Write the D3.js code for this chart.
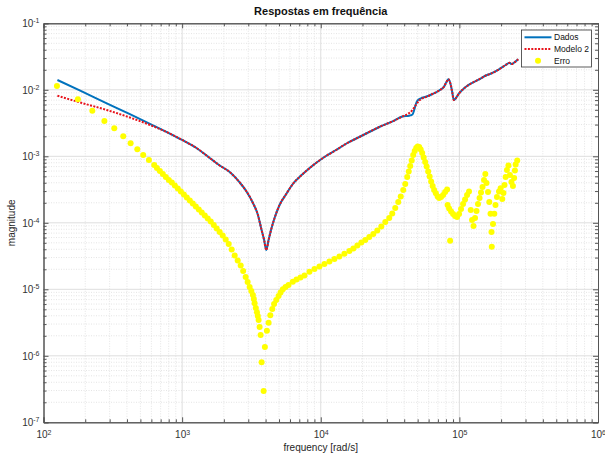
<!DOCTYPE html>
<html>
<head>
<meta charset="utf-8">
<title>Respostas em frequência</title>
<style>
  body { margin: 0; background: #fff; }
  svg { font-family: "Liberation Sans", Arial, sans-serif; }
  .grid-major line { stroke: #dedede; stroke-width: 1; }
  .grid-minor line { stroke: #e4e4e4; stroke-width: 1; stroke-dasharray: 1,1.5; }
  .axis path, .axis line { stroke: #555; }
  .axis text { fill: #333; font-size: 10px; }
</style>
</head>
<body>
<svg width="605" height="454"></svg>
<script src="https://d3js.org/d3.v7.min.js"></script>
<script>

// Dados (medido)
var freqDados = [126, 184, 286, 420, 586, 815, 1017, 1269, 1582, 1867, 2204, 2602, 2906, 3242, 3523, 3727, 3904, 4048,
  4205, 4398, 4645, 5045, 5637, 6289, 7422, 8759, 10630, 12900, 15560, 18980, 26440, 33900, 38900,
  43470, 45910, 47220, 48560, 49860, 52770, 57330, 63950, 71450, 77620, 80640, 83380, 86170, 89050, 91140,
  94210, 99500, 108100, 117400, 138600, 158200, 166300, 193100, 215700, 230400, 238200, 247500, 265800];
var magDados = [1.404e-2, 9.69e-3, 6.27e-3, 4.30e-3, 3.08e-3, 2.20e-3, 1.73e-3, 1.333e-3, 9.43e-4, 7.27e-4, 5.81e-4, 4.04e-4, 2.99e-4, 1.985e-4, 1.31e-4, 8.07e-5, 5.51e-5, 3.90e-5,
  5.51e-5, 8.07e-5, 1.18e-4, 1.85e-4, 2.71e-4, 3.83e-4, 5.42e-4, 7.27e-4, 9.76e-4, 1.243e-3, 1.585e-3, 1.95e-3, 2.76e-3, 3.45e-3, 3.97e-3,
  4.08e-3, 4.25e-3, 4.97e-3, 6.12e-3, 6.86e-3, 7.45e-3, 7.87e-3, 8.64e-3, 9.76e-3, 1.121e-2, 1.31e-2, 1.438e-2, 1.243e-2, 8.95e-3, 7.02e-3,
  7.45e-3, 8.86e-3, 1.053e-2, 1.193e-2, 1.438e-2, 1.67e-2, 1.73e-2, 2.03e-2, 2.36e-2, 2.55e-2, 2.44e-2, 2.55e-2, 2.87e-2];

// Modelo 2
var freqModelo = [126, 184, 286, 420, 586, 815, 1017, 1269, 1582, 1867, 2204, 2602, 2906, 3242, 3523, 3727, 3904, 4048,
  4205, 4398, 4645, 5045, 5637, 6289, 7422, 8759, 10630, 12900, 15560, 18980, 26440, 33900, 38900,
  43470, 45910, 48560, 51310, 54180, 57330, 63950, 71450, 77620, 80640, 83380, 86170, 89050, 91140,
  94210, 99500, 108100, 117400, 138600, 158200, 166300, 193100, 215700, 230400, 238200, 247500, 265800];
var magModelo = [8.15e-3, 6.44e-3, 4.97e-3, 3.83e-3, 2.96e-3, 2.20e-3, 1.73e-3, 1.333e-3, 9.43e-4, 7.27e-4, 5.81e-4, 4.04e-4, 2.99e-4, 1.985e-4, 1.31e-4, 8.07e-5, 5.51e-5, 3.90e-5,
  5.51e-5, 8.07e-5, 1.18e-4, 1.85e-4, 2.71e-4, 3.83e-4, 5.42e-4, 7.27e-4, 9.76e-4, 1.243e-3, 1.585e-3, 1.95e-3, 2.76e-3, 3.45e-3, 3.97e-3,
  4.48e-3, 4.97e-3, 5.91e-3, 6.90e-3, 7.45e-3, 7.79e-3, 8.64e-3, 9.76e-3, 1.121e-2, 1.31e-2, 1.438e-2, 1.243e-2, 8.95e-3, 7.02e-3,
  7.45e-3, 8.86e-3, 1.053e-2, 1.193e-2, 1.438e-2, 1.67e-2, 1.73e-2, 2.03e-2, 2.36e-2, 2.55e-2, 2.44e-2, 2.55e-2, 2.87e-2];

// Erro
var freqErro = [125, 177, 225, 275, 324, 376, 425, 475, 524, 576,
  629, 658, 691, 726, 763, 802, 843, 886, 931, 979, 1029, 1081, 1136, 1194, 1255, 1319, 1386, 1457, 1531, 1609,
  1691, 1776, 1867, 1962, 2062, 2168, 2278, 2394, 2516, 2645, 2756, 2873, 2969, 3069, 3157, 3242, 3291, 3334,
  3401, 3463, 3516, 3563, 3622, 3683, 3744, 3871,
  3955, 4088, 4205, 4325, 4471, 4606, 4776, 4962, 5130, 5328, 5572, 5856, 6289, 6687, 7145, 7632, 8291, 9010,
  9787, 10630, 11550, 12550, 13630, 14810, 16090, 17190, 18370, 19630, 20970, 22400, 23940, 25580, 27340, 29210,
  31200, 32800, 34470, 36220, 37760, 39360, 40690, 42060, 43120, 44190, 45310, 46450, 47620, 48820, 50050, 51310,
  52600, 53930, 55260, 56650, 58080, 59540, 61040, 62580, 64150, 65770, 67650, 69700, 71450, 73840, 76320, 78900, 81560,
  82240, 84320, 85730, 87160, 90100, 93130, 96260, 99500, 102800, 106300, 109900, 113600, 117400,
  120800, 123400, 126500, 129700, 132900, 136300, 139800, 143200, 146900, 150600, 153900, 156900, 160900, 164400,
  167700, 170500, 171300, 174800, 178600, 182200, 186700, 193100, 198500, 203900, 208000, 211500, 215700, 220400,
  225900, 231600, 237400, 243400, 248300, 251600, 254600, 261400];
var magErro = [1.14e-2, 7.20e-3, 4.85e-3, 3.40e-3, 2.64e-3, 2.00e-3, 1.57e-3, 1.274e-3, 1.046e-3, 8.80e-4,
  7.40e-4, 6.67e-4, 6.01e-4, 5.42e-4, 4.88e-4, 4.40e-4, 4.04e-4, 3.64e-4, 3.28e-4, 2.96e-4, 2.66e-4, 2.40e-4, 2.16e-4, 1.95e-4, 1.76e-4, 1.585e-4, 1.43e-4, 1.29e-4, 1.16e-4, 1.05e-4,
  9.27e-5, 8.21e-5, 7.27e-5, 6.44e-5, 5.61e-5, 4.80e-5, 3.97e-5, 3.22e-5, 2.71e-5, 2.28e-5, 1.88e-5, 1.53e-5, 1.29e-5, 1.08e-5, 9.43e-6, 8.21e-6, 7.15e-6, 6.16e-6,
  5.23e-6, 4.51e-6, 3.97e-6, 3.45e-6, 2.71e-6, 2.06e-6, 7.99e-7, 2.96e-7,
  1.36e-6, 2.38e-6, 3.15e-6, 4.06e-6, 5.05e-6, 6.01e-6, 6.90e-6, 7.93e-6, 8.95e-6, 1.00e-5, 1.08e-5, 1.16e-5, 1.30e-5, 1.40e-5, 1.50e-5, 1.61e-5, 1.84e-5, 2.02e-5,
  2.20e-5, 2.40e-5, 2.62e-5, 2.85e-5, 3.11e-5, 3.42e-5, 3.77e-5, 4.11e-5, 4.56e-5, 5.05e-5, 5.51e-5, 6.12e-5, 6.79e-5, 7.66e-5, 8.80e-5, 1.03e-4,
  1.18e-4, 1.38e-4, 1.67e-4, 2.06e-4, 2.49e-4, 3.11e-4, 3.83e-4, 4.88e-4, 5.91e-4, 7.15e-4, 8.65e-4, 1.046e-3, 1.20e-3, 1.333e-3, 1.40e-3, 1.38e-3,
  1.27e-3, 1.12e-3, 9.59e-4, 8.21e-4, 7.02e-4, 5.91e-4, 4.97e-4, 4.18e-4, 3.58e-4, 3.11e-4, 2.78e-4, 2.49e-4, 2.36e-4, 2.44e-4, 2.62e-4, 2.91e-4, 3.17e-4,
  1.85e-4, 1.64e-4, 5.38e-5, 1.48e-4, 1.36e-4, 1.27e-4, 1.22e-4, 1.36e-4, 1.61e-4, 1.92e-4, 2.24e-4, 2.62e-4, 2.96e-4,
  1.56e-4, 1.10e-4, 8.95e-5, 1.18e-4, 1.50e-4, 1.92e-4, 2.36e-4, 2.85e-4, 3.45e-4, 4.40e-4, 5.42e-4, 3.97e-4, 2.91e-4, 2.06e-4,
  1.37e-4, 7.27e-5, 4.37e-5, 9.59e-5, 1.37e-4, 1.85e-4, 2.44e-4, 2.96e-4, 3.30e-4, 2.28e-4, 2.81e-4, 3.70e-4, 4.88e-4, 6.22e-4,
  7.27e-4, 5.23e-4, 4.11e-4, 3.58e-4, 4.72e-4, 6.12e-4, 7.53e-4, 8.65e-4];

var xMajor = [1e2, 1e3, 1e4, 1e5, 1e6];
var yMajor = [1e-7, 1e-6, 1e-5, 1e-4, 1e-3, 1e-2, 1e-1];
var legendLabels = ["Dados", "Modelo 2", "Erro"];

var svg = d3.select("svg"),
    pL = 43.5, pR = 598, pT = 23.3, pB = 422.3;

var x = d3.scaleLog().domain([1e2, 1e6]).range([pL, pR]);
var y = d3.scaleLog().domain([1e-7, 1e-1]).range([pB, pT]);

// minor ticks 2..9 in every decade
var xMinor = [], yMinor = [];
xMajor.slice(0, -1).forEach(function(d) { for (var k = 2; k < 10; k++) xMinor.push(d * k); });
yMajor.slice(0, -1).forEach(function(d) { for (var k = 2; k < 10; k++) yMinor.push(d * k); });

// grid
var gMinor = svg.append("g").attr("class", "grid-minor");
gMinor.selectAll("line.v").data(xMinor).enter().append("line").attr("class", "v")
    .attr("x1", function(d) { return x(d); }).attr("x2", function(d) { return x(d); })
    .attr("y1", pT).attr("y2", pB);
gMinor.selectAll("line.h").data(yMinor).enter().append("line").attr("class", "h")
    .attr("y1", function(d) { return y(d); }).attr("y2", function(d) { return y(d); })
    .attr("x1", pL).attr("x2", pR);

var gMajor = svg.append("g").attr("class", "grid-major");
gMajor.selectAll("line.v").data(xMajor.slice(1, -1)).enter().append("line").attr("class", "v")
    .attr("x1", function(d) { return x(d); }).attr("x2", function(d) { return x(d); })
    .attr("y1", pT).attr("y2", pB);
gMajor.selectAll("line.h").data(yMajor.slice(1, -1)).enter().append("line").attr("class", "h")
    .attr("y1", function(d) { return y(d); }).attr("y2", function(d) { return y(d); })
    .attr("x1", pL).attr("x2", pR);

// series
var line = d3.line()
    .curve(d3.curveMonotoneX)
    .x(function(d) { return x(d[0]); })
    .y(function(d) { return y(d[1]); });

svg.append("path")
    .datum(d3.zip(freqDados, magDados))
    .attr("fill", "none").attr("stroke", "#0072bd").attr("stroke-width", 2)
    .attr("d", line);

svg.append("path")
    .datum(d3.zip(freqModelo, magModelo))
    .attr("fill", "none").attr("stroke", "#e8141c").attr("stroke-width", 2)
    .attr("stroke-dasharray", "2,1.4")
    .attr("d", line);

svg.append("g")
  .selectAll("circle")
  .data(d3.zip(freqErro, magErro))
  .enter().append("circle")
    .attr("cx", function(d) { return x(d[0]); })
    .attr("cy", function(d) { return y(d[1]); })
    .attr("r", 3)
    .attr("fill", "#ffff00");

// axes (box, ticks inward)
function supLabel(sel) {
  sel.each(function(d) {
    var t = d3.select(this);
    t.text("10");
    t.append("tspan").attr("dy", "-0.55em").attr("font-size", "7px")
      .text(Math.round(Math.log10(d)));
  });
}

var xb = svg.append("g").attr("class", "axis").attr("transform", "translate(0," + pB + ")")
    .call(d3.axisBottom(x).tickValues(xMajor).tickSize(-5).tickPadding(9));
xb.selectAll(".tick text").call(supLabel);
svg.append("g").attr("class", "axis").attr("transform", "translate(0," + pB + ")")
    .call(d3.axisBottom(x).tickValues(xMinor).tickSize(-3).tickSizeOuter(0).tickFormat(""));

var yl = svg.append("g").attr("class", "axis").attr("transform", "translate(" + pL + ",0)")
    .call(d3.axisLeft(y).tickValues(yMajor).tickSize(-5).tickPadding(4));
yl.selectAll(".tick text").call(supLabel);
svg.append("g").attr("class", "axis").attr("transform", "translate(" + pL + ",0)")
    .call(d3.axisLeft(y).tickValues(yMinor).tickSize(-3).tickSizeOuter(0).tickFormat(""));

svg.append("g").attr("class", "axis").attr("transform", "translate(0," + pT + ")")
    .call(d3.axisTop(x).tickValues(xMajor).tickSize(-5).tickFormat(""));
svg.append("g").attr("class", "axis").attr("transform", "translate(0," + pT + ")")
    .call(d3.axisTop(x).tickValues(xMinor).tickSize(-3).tickSizeOuter(0).tickFormat(""));
svg.append("g").attr("class", "axis").attr("transform", "translate(" + pR + ",0)")
    .call(d3.axisRight(y).tickValues(yMajor).tickSize(-5).tickFormat(""));
svg.append("g").attr("class", "axis").attr("transform", "translate(" + pR + ",0)")
    .call(d3.axisRight(y).tickValues(yMinor).tickSize(-3).tickSizeOuter(0).tickFormat(""));

// labels
svg.append("text").attr("x", (pL + pR) / 2).attr("y", 15)
    .attr("text-anchor", "middle").attr("font-weight", "bold").attr("font-size", "11px").attr("fill", "#111")
    .text("Respostas em frequência");
svg.append("text").attr("x", (pL + pR) / 2).attr("y", 451)
    .attr("text-anchor", "middle").attr("font-size", "10px").attr("fill", "#262626")
    .text("frequency [rad/s]");
svg.append("text").attr("transform", "translate(15," + (pT + pB) / 2 + ") rotate(-90)")
    .attr("text-anchor", "middle").attr("font-size", "10px").attr("fill", "#262626")
    .text("magnitude");

// legend
var lg = svg.append("g").attr("transform", "translate(521.5,30)");
lg.append("rect").attr("width", 70).attr("height", 37)
    .attr("fill", "#fff").attr("stroke", "#333").attr("stroke-width", 0.8);
var rows = lg.selectAll("g.row").data(legendLabels).enter().append("g")
    .attr("transform", function(d, i) { return "translate(0," + (7.3 + i * 11.7) + ")"; });
rows.filter(function(d, i) { return i === 0; }).append("line")
    .attr("x1", 3).attr("x2", 30).attr("stroke", "#0072bd").attr("stroke-width", 2);
rows.filter(function(d, i) { return i === 1; }).append("line")
    .attr("x1", 3).attr("x2", 30).attr("stroke", "#e8141c").attr("stroke-width", 2)
    .attr("stroke-dasharray", "2,1.4");
rows.filter(function(d, i) { return i === 2; }).append("circle")
    .attr("cx", 16.5).attr("r", 3).attr("fill", "#ffff00");
rows.append("text").attr("x", 32.5).attr("dy", "0.35em")
    .attr("font-size", "8.5px").attr("fill", "#111")
    .text(function(d) { return d; });

</script>
</body>
</html>
